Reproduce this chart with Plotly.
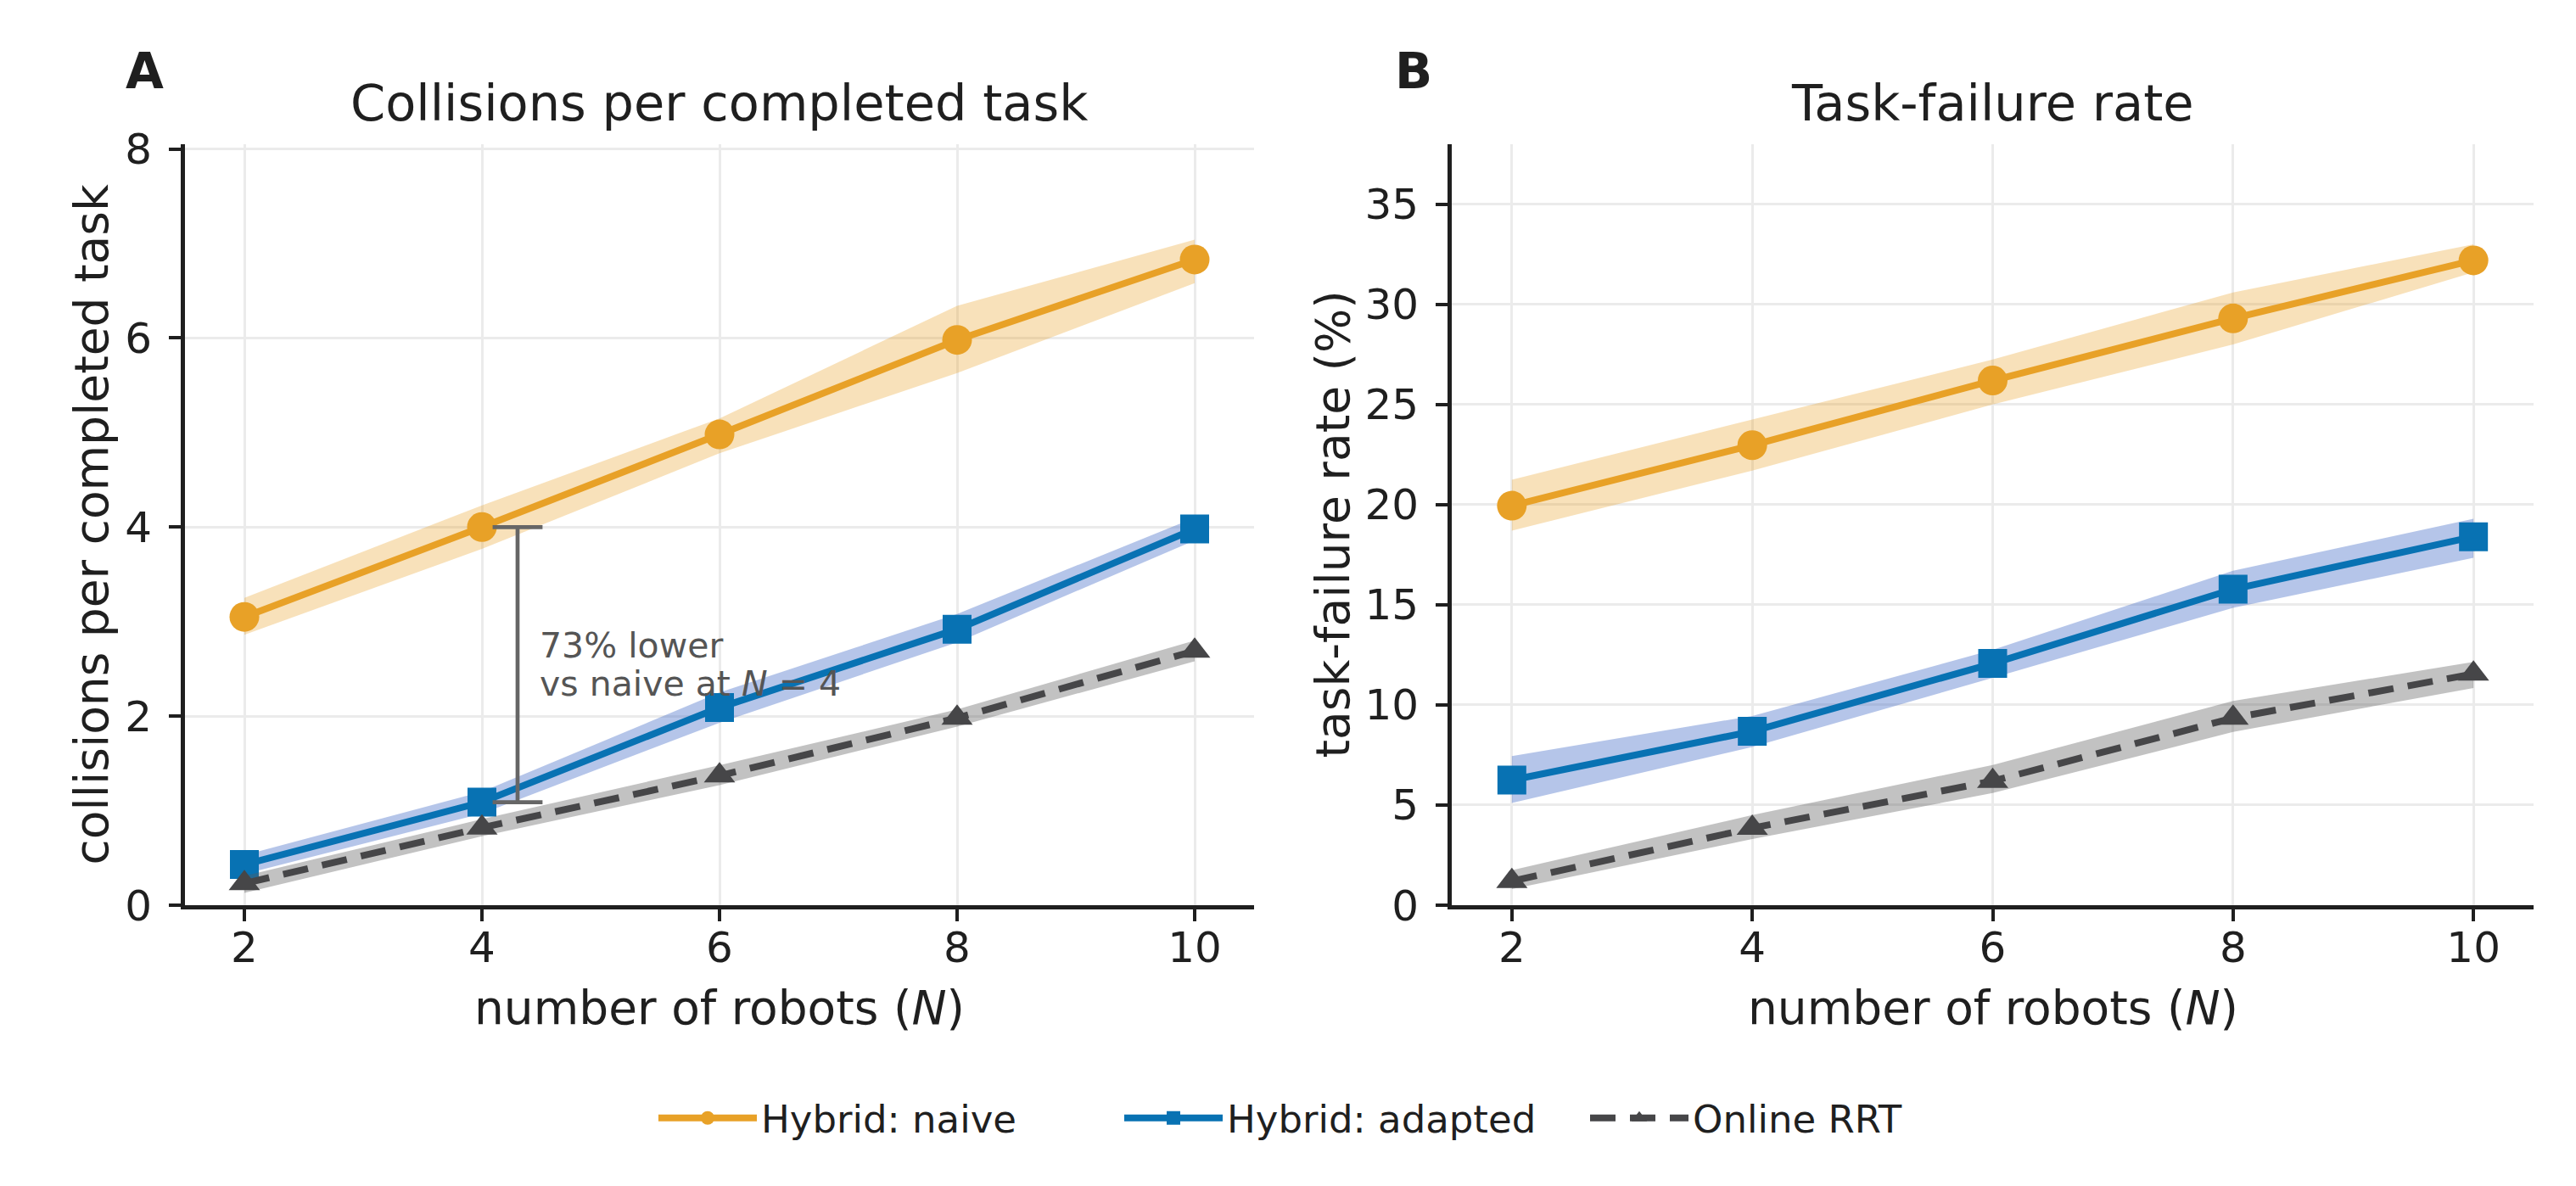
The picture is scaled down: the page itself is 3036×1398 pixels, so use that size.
import plotly.graph_objects as go

# ---------------- data ----------------
N = [2, 4, 6, 8, 10]

naive_coll = [3.05, 4.00, 4.98, 5.98, 6.83]
naive_coll_lo = [2.86, 3.77, 4.78, 5.63, 6.58]
naive_coll_hi = [3.25, 4.23, 5.15, 6.34, 7.04]
adapted_coll = [0.43, 1.09, 2.09, 2.92, 3.98]
adapted_coll_lo = [0.33, 0.97, 1.93, 2.78, 3.86]
adapted_coll_hi = [0.53, 1.20, 2.25, 3.08, 4.10]
rrt_coll = [0.23, 0.82, 1.37, 1.98, 2.69]
rrt_coll_lo = [0.13, 0.73, 1.27, 1.89, 2.58]
rrt_coll_hi = [0.31, 0.91, 1.48, 2.07, 2.80]

naive_fail = [19.95, 22.97, 26.2, 29.3, 32.2]
naive_fail_lo = [18.7, 21.7, 25.0, 28.0, 31.6]
naive_fail_hi = [21.25, 24.25, 27.25, 30.6, 33.0]
adapted_fail = [6.25, 8.68, 12.07, 15.78, 18.4]
adapted_fail_lo = [5.1, 7.9, 11.35, 14.85, 17.35]
adapted_fail_hi = [7.45, 9.45, 12.75, 16.7, 19.3]
rrt_fail = [1.2, 3.85, 6.2, 9.35, 11.55]
rrt_fail_lo = [0.8, 3.3, 5.6, 8.65, 10.85]
rrt_fail_hi = [1.75, 4.5, 7.0, 10.2, 12.15]

series_names = ["Hybrid: naive", "Hybrid: adapted", "Online RRT"]
panel_titles = ["Collisions per completed task", "Task-failure rate"]
y_titles = ["collisions per completed task", "task-failure rate (%)"]
x_title = "number of robots (<i>N</i>)"
panel_letters = ["A", "B"]
yticks_a = [0, 2, 4, 6, 8]
yticks_b = [0, 5, 10, 15, 20, 25, 30, 35]
xticks = [2, 4, 6, 8, 10]

# ---------------- style ----------------
FONT = "DejaVu Sans"
TXT = "#1f1f1f"
C_NAIVE = "#E8A127"
C_ADAPT = "#0872B3"
C_RRT = "#464648"
B_NAIVE = "rgba(232,161,39,0.32)"
B_ADAPT = "rgba(70,110,200,0.40)"
B_RRT = "rgba(90,90,90,0.37)"

W, H = 3036, 1398

fig = go.Figure()

styles = [
    dict(color=C_NAIVE, band=B_NAIVE, symbol="circle", size=35, dash="solid"),
    dict(color=C_ADAPT, band=B_ADAPT, symbol="square", size=34, dash="solid"),
    dict(color=C_RRT, band=B_RRT, symbol="triangle-up", size=32, dash="30px,17px"),
]

panels = [
    ("x", "y", [(naive_coll, naive_coll_lo, naive_coll_hi),
                (adapted_coll, adapted_coll_lo, adapted_coll_hi),
                (rrt_coll, rrt_coll_lo, rrt_coll_hi)]),
    ("x2", "y2", [(naive_fail, naive_fail_lo, naive_fail_hi),
                  (adapted_fail, adapted_fail_lo, adapted_fail_hi),
                  (rrt_fail, rrt_fail_lo, rrt_fail_hi)]),
]

for pi, (xa, ya, data) in enumerate(panels):
    for si, (mid, lo, hi) in enumerate(data):
        st = styles[si]
        fig.add_trace(go.Scatter(
            x=N + N[::-1], y=hi + lo[::-1], fill="toself", fillcolor=st["band"],
            line=dict(width=0), mode="lines", hoverinfo="skip", showlegend=False,
            xaxis=xa, yaxis=ya))
        fig.add_trace(go.Scatter(
            x=N, y=mid, mode="lines+markers", name=series_names[si],
            line=dict(color=st["color"], width=8, dash=st["dash"]),
            marker=dict(color=st["color"], symbol=st["symbol"], size=st["size"], line=dict(width=0)),
            showlegend=(pi == 0), xaxis=xa, yaxis=ya))

# bracket annotation in panel A (from data at N=4)
i4 = N.index(4)
y_top = naive_coll[i4]
y_bot = adapted_coll[i4]
bx = 4.3
cap = 0.21
pct = round((naive_coll[i4] - adapted_coll[i4]) / naive_coll[i4] * 100)
bracket_style = dict(color="#666666", width=4.7)
fig.add_shape(type="line", xref="x", yref="y", x0=bx, x1=bx, y0=y_bot, y1=y_top, line=bracket_style)
fig.add_shape(type="line", xref="x", yref="y", x0=bx - cap, x1=bx + cap, y0=y_top, y1=y_top, line=bracket_style)
fig.add_shape(type="line", xref="x", yref="y", x0=bx - cap, x1=bx + cap, y0=y_bot, y1=y_bot, line=bracket_style)

ANN_C = "#555555"
fig.add_annotation(xref="x", yref="y", x=4.47, y=2.75, xanchor="left", yanchor="middle",
                   text=f"{pct}% lower", showarrow=False,
                   font=dict(family=FONT, size=41, color=ANN_C))
fig.add_annotation(xref="x", yref="y", x=4.47, y=2.345, xanchor="left", yanchor="middle",
                   text="vs naive at <i>N</i> = 4", showarrow=False,
                   font=dict(family=FONT, size=41, color=ANN_C))

# ---------------- layout ----------------
dom_a = [218 / W, 1478 / W]
dom_b = [1711 / W, 2986 / W]
dom_y = [1 - 1067 / H, 1 - 170 / H]

axis_common = dict(
    showline=True, linecolor=TXT, linewidth=4.7, ticks="outside", ticklen=14,
    tickwidth=4.3, tickcolor=TXT, showgrid=True, gridcolor="#ebebeb", gridwidth=3,
    zeroline=False, tickfont=dict(family=FONT, size=50, color=TXT), mirror=False,
    automargin=False,
)

fig.update_layout(
    width=W, height=H, margin=dict(l=0, r=0, t=0, b=0, pad=0, autoexpand=False),
    paper_bgcolor="white", plot_bgcolor="white",
    font=dict(family=FONT, color=TXT),
    xaxis=dict(domain=dom_a, range=[1.5, 10.5], tickvals=xticks, anchor="y", ticklabelstandoff=-12, **axis_common),
    yaxis=dict(domain=dom_y, range=[0, 8.05], tickvals=yticks_a, anchor="x", ticklabelstandoff=10, **axis_common),
    xaxis2=dict(domain=dom_b, range=[1.5, 10.5], tickvals=xticks, anchor="y2", ticklabelstandoff=-12, **axis_common),
    yaxis2=dict(domain=dom_y, range=[0, 38], tickvals=yticks_b, anchor="x2", ticklabelstandoff=10, **axis_common),
    legend=dict(orientation="h", x=771 / W, xanchor="left", y=1 - 1318 / H, yanchor="middle",
                font=dict(family=FONT, size=45, color=TXT), itemwidth=116,
                entrywidth=418, entrywidthmode="pixels", bgcolor="rgba(0,0,0,0)"),
    showlegend=True,
)

# titles, panel letters, axis titles
centers = [(dom_a[0] + dom_a[1]) / 2, (dom_b[0] + dom_b[1]) / 2]
for i in range(2):
    fig.add_annotation(xref="paper", yref="paper", x=centers[i], y=1 - 121 / H,
                       xanchor="center", yanchor="middle", text=panel_titles[i], showarrow=False,
                       font=dict(family=FONT, size=59, color=TXT))
    fig.add_annotation(xref="paper", yref="paper", x=centers[i], y=1 - 1188 / H,
                       xanchor="center", yanchor="middle", text=x_title, showarrow=False,
                       font=dict(family=FONT, size=55, color=TXT))
letter_x = [146 / W, 1642 / W]
for i in range(2):
    fig.add_annotation(xref="paper", yref="paper", x=letter_x[i], y=1 - 84 / H,
                       xanchor="left", yanchor="middle", text=f"<b>{panel_letters[i]}</b>", showarrow=False,
                       font=dict(family=FONT, size=58, color=TXT))
ytitle_x = [108 / W, 1571 / W]
ymid = (dom_y[0] + dom_y[1]) / 2
for i in range(2):
    fig.add_annotation(xref="paper", yref="paper", x=ytitle_x[i], y=ymid, textangle=-90,
                       xanchor="center", yanchor="middle", text=y_titles[i], showarrow=False,
                       font=dict(family=FONT, size=55, color=TXT))

fig.write_html("out.html")
